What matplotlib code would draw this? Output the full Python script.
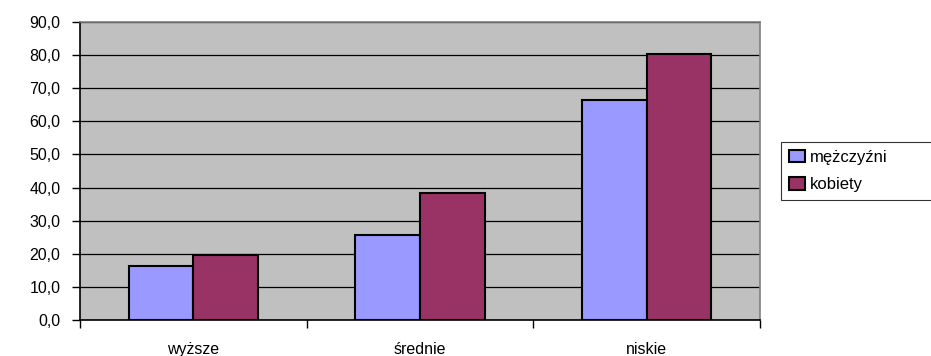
import matplotlib
matplotlib.use('Agg')
import matplotlib.pyplot as plt
import numpy as np

categories = ['wyższe', 'średnie', 'niskie']
men = [16.4, 25.7, 66.4]
women = [19.5, 38.4, 80.3]
series_names = ['mężczyźni', 'kobiety']
yticks = [0, 10, 20, 30, 40, 50, 60, 70, 80, 90]

plt.rcParams['font.family'] = ['Liberation Sans', 'DejaVu Sans']

fig = plt.figure(figsize=(9.31, 3.56), dpi=100)
ax = fig.add_axes([80 / 931, 36 / 356, 680 / 931, 298 / 356])
ax.set_facecolor('#C0C0C0')

x = np.arange(len(categories))
w = 1 / 3.5
ax.bar(x - w / 2, men, w, color='#9999FF', edgecolor='black', linewidth=1.5,
       label=series_names[0], zorder=3)
ax.bar(x + w / 2, women, w, color='#993366', edgecolor='black', linewidth=1.5,
       label=series_names[1], zorder=3)

ax.set_xlim(-0.5, len(categories) - 0.5)
ax.set_ylim(0, 90)
ax.set_yticks(yticks)
ax.set_yticklabels([f'{v:.1f}'.replace('.', ',') for v in yticks], fontsize=11.5)
ax.yaxis.grid(True, color='black', linewidth=0.9, zorder=1)
ax.set_axisbelow(True)

ax.set_xticks(x)
ax.set_xticklabels(categories, fontsize=11.5)
ax.tick_params(axis='x', length=0, pad=16)
ax.set_xticks(np.arange(len(categories) + 1) - 0.5, minor=True)
ax.tick_params(axis='x', which='minor', length=6, width=1, color='black')
ax.tick_params(axis='y', length=6, width=1, color='black', pad=8)

for side in ['left', 'bottom']:
    ax.spines[side].set_color('black')
    ax.spines[side].set_linewidth(1.2)
for side in ['top', 'right']:
    ax.spines[side].set_color('#808080')
    ax.spines[side].set_linewidth(1.2)

leg = fig.legend(loc='upper left',
                 bbox_to_anchor=(781 / 931, 1 - 200 / 356, 160 / 931, 58 / 356),
                 mode='expand', fontsize=12, frameon=True, fancybox=False,
                 edgecolor='black', borderpad=0.45, handlelength=1.0,
                 handleheight=0.8, handletextpad=0.3, labelspacing=0.75,
                 borderaxespad=0)
leg.get_frame().set_linewidth(0.8)

plt.savefig('out.png', dpi=100)
plt.close()
